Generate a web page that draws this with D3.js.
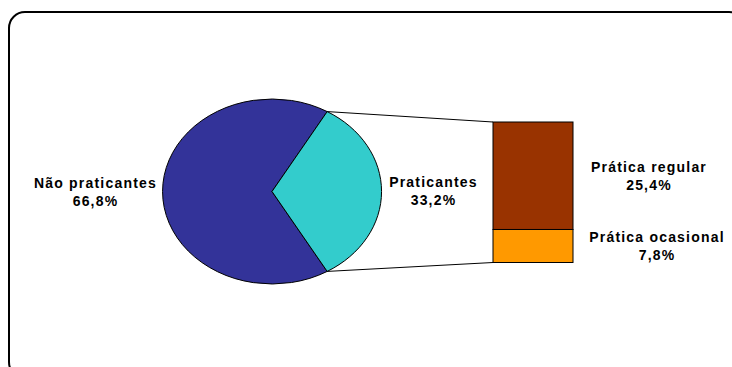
<!DOCTYPE html>
<html>
<head>
<meta charset="utf-8">
<script src="https://cdn.jsdelivr.net/npm/d3@7"></script>
<style>
  html, body { margin: 0; padding: 0; background: #fff; }
  svg { display: block; }
  text { font-family: "Liberation Sans", Arial, sans-serif; font-weight: bold; font-size: 14px; letter-spacing: 1.2px; fill: #000; }
</style>
</head>
<body>
<svg id="chart" width="732" height="367"></svg>
<script>
// Pie: practitioners vs non-practitioners (%)
const pieCategories = ["Não praticantes", "Praticantes"];
const pieValues = [66.8, 33.2];
const pieColors = ["#333399", "#33CCCC"];

// Breakdown of practitioners (%)
const barCategories = ["Prática regular", "Prática ocasional"];
const barValues = [25.4, 7.8];
const barColors = ["#993300", "#FF9900"];

const fmt = v => d3.format(".1f")(v).replace(".", ",") + "%";

const svg = d3.select("#chart");

// Outer rounded frame
svg.append("rect")
  .attr("x", 9).attr("y", 12)
  .attr("width", 736).attr("height", 366)
  .attr("rx", 16).attr("ry", 16)
  .attr("fill", "none").attr("stroke", "#000").attr("stroke-width", 2);

// Elliptical pie: a unit pie scaled on x and y
const cx = 272, cy = 191.5, rx = 109.5, ry = 92.5;
const praticShare = pieValues[1];
const startOffset = Math.PI / 2 + (praticShare / 100) * Math.PI; // centre the small slice on the right
const pie = d3.pie().sort(null)
  .startAngle(startOffset)
  .endAngle(startOffset + 2 * Math.PI);
const arcs = pie(pieValues);
const arc = d3.arc().innerRadius(0).outerRadius(1);

const pieG = svg.append("g").attr("transform", `translate(${cx},${cy}) scale(${rx},${ry})`);
pieG.selectAll("path").data(arcs).join("path")
  .attr("d", arc)
  .attr("fill", (d, i) => pieColors[i])
  .attr("stroke", "#000")
  .attr("stroke-width", 1)
  .attr("vector-effect", "non-scaling-stroke");

// Stacked bar for the breakdown
const barX = 493, barW = 80, barTop = 122;
const total = d3.sum(barValues);
const y = d3.scaleLinear().domain([0, total]).range([barTop, barTop + 140.5]);
let acc = 0;
const stacks = barValues.map(v => { const s = { y0: acc, y1: acc + v, v }; acc += v; return s; });
svg.selectAll("rect.seg").data(stacks).join("rect")
  .attr("class", "seg")
  .attr("x", barX).attr("width", barW)
  .attr("y", d => y(d.y0))
  .attr("height", d => y(d.y1) - y(d.y0))
  .attr("fill", (d, i) => barColors[i])
  .attr("stroke", "#000").attr("stroke-width", 1);

// Connector lines from the practitioners slice edges to the bar corners
const sl = arcs[1];
const edgePoint = a => [cx + rx * Math.sin(a), cy - ry * Math.cos(a)];
const pTop = edgePoint(sl.startAngle);
const pBot = edgePoint(sl.endAngle);
svg.append("line")
  .attr("x1", pTop[0]).attr("y1", pTop[1]).attr("x2", barX).attr("y2", y(0))
  .attr("stroke", "#000").attr("stroke-width", 1);
svg.append("line")
  .attr("x1", pBot[0]).attr("y1", pBot[1]).attr("x2", barX).attr("y2", y(total))
  .attr("stroke", "#000").attr("stroke-width", 1);

// Labels (two lines: name, then value)
function label(x, yBase, lines) {
  const t = svg.append("text").attr("text-anchor", "middle").attr("x", x).attr("y", yBase);
  lines.forEach((l, i) => t.append("tspan").attr("x", x).attr("dy", i === 0 ? 0 : 18).text(l));
}
label(95.5, 188, [pieCategories[0], fmt(pieValues[0])]);
label(433.5, 187, [pieCategories[1], fmt(pieValues[1])]);
label(649, 172, [barCategories[0], fmt(barValues[0])]);
label(657, 242, [barCategories[1], fmt(barValues[1])]);
</script>
</body>
</html>
